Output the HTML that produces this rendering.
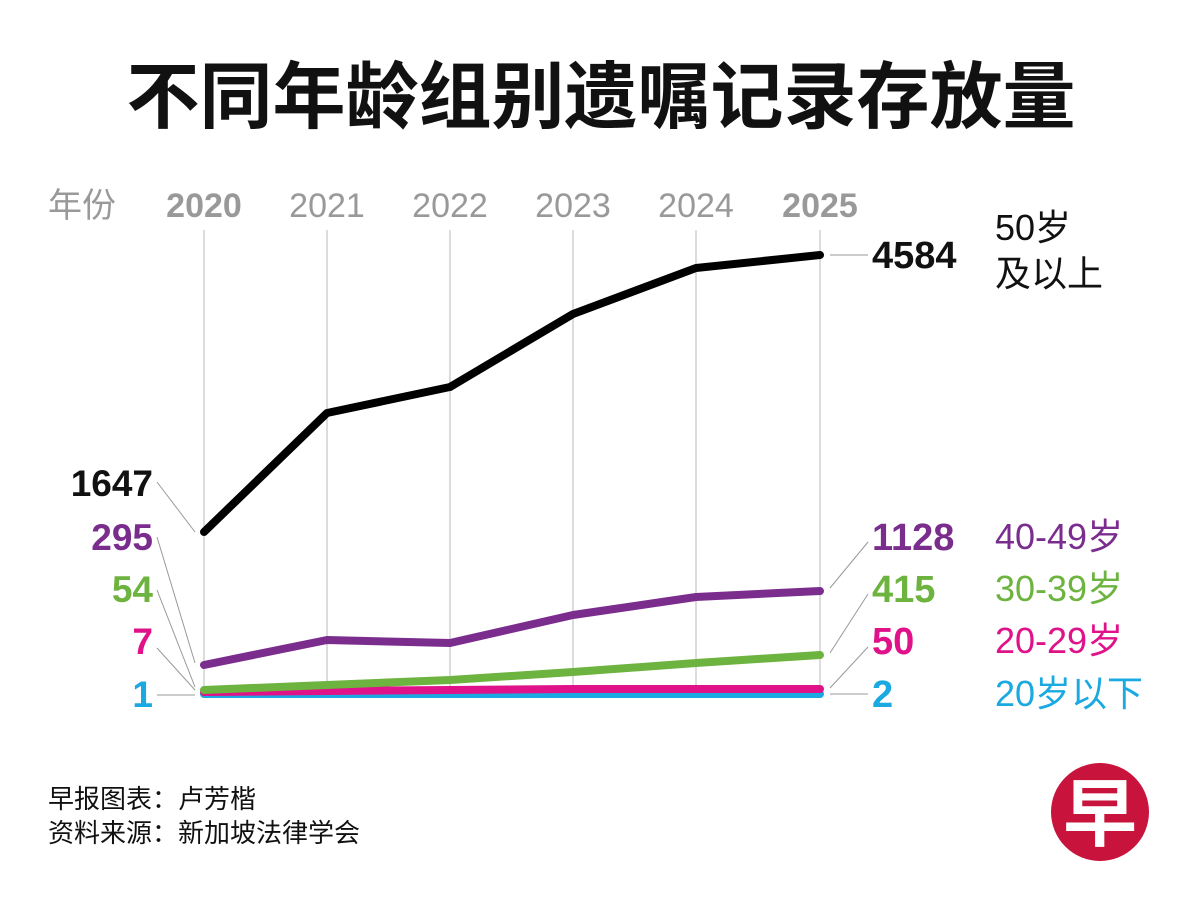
<!DOCTYPE html>
<html><head><meta charset="utf-8"><style>
body{margin:0;background:#fff;}
svg{display:block;}
text{font-family:"Liberation Sans","Noto Sans CJK SC",sans-serif;}
</style></head><body>
<svg width="1200" height="912" viewBox="0 0 1200 912">
<rect width="1200" height="912" fill="#fff"/>
<text x="601" y="122" text-anchor="middle" font-size="73" font-weight="bold" fill="#111">不同年龄组别遗嘱记录存放量</text>
<g font-size="34" fill="#999">
<text x="48" y="217">年份</text>
<text x="204" y="217" text-anchor="middle" font-weight="bold">2020</text>
<text x="327" y="217" text-anchor="middle">2021</text>
<text x="450" y="217" text-anchor="middle">2022</text>
<text x="573" y="217" text-anchor="middle">2023</text>
<text x="696" y="217" text-anchor="middle">2024</text>
<text x="820" y="217" text-anchor="middle" font-weight="bold">2025</text>
</g>
<g stroke="#d0d0d0" stroke-width="1.5">
<line x1="204" y1="230" x2="204" y2="695"/><line x1="327" y1="230" x2="327" y2="695"/>
<line x1="450" y1="230" x2="450" y2="695"/><line x1="573" y1="230" x2="573" y2="695"/>
<line x1="696" y1="230" x2="696" y2="695"/><line x1="820" y1="230" x2="820" y2="695"/>
</g>
<g stroke="#999" stroke-width="1" fill="none">
<path d="M157 482 L195 532"/><path d="M157 537 L195 663"/><path d="M157 590 L195 687"/>
<path d="M157 648 L195 690"/><path d="M157 695 L195 695"/>
<path d="M830 255 L868 255"/><path d="M830 588 L868 542"/><path d="M830 653 L868 594"/>
<path d="M830 688 L868 647"/><path d="M830 694 L868 694"/>
</g>
<g fill="none" stroke-width="8" stroke-linecap="round" stroke-linejoin="round">
<polyline stroke="#1aa9e0" points="204,694 327,694 450,694 573,694 696,694 820,694"/>
<polyline stroke="#e0128a" points="204,692 327,691 450,690 573,689 696,689 820,689"/>
<polyline stroke="#6db33f" points="204,690 327,685 450,680 573,672 696,663 820,655"/>
<polyline stroke="#7b2d8e" points="204,665 327,640 450,643 573,615 696,597 820,591"/>
<polyline stroke="#000" points="204,532 327,413 450,387 573,314 696,268 820,255"/>
</g>
<g font-size="37" font-weight="bold" text-anchor="end">
<text x="153" y="496" fill="#111">1647</text>
<text x="153" y="550" fill="#7b2d8e">295</text>
<text x="153" y="602" fill="#6db33f">54</text>
<text x="153" y="654" fill="#e0128a">7</text>
<text x="153" y="707" fill="#1aa9e0">1</text>
</g>
<g font-size="38" font-weight="bold">
<text x="872" y="268" fill="#111">4584</text>
<text x="872" y="550" fill="#7b2d8e">1128</text>
<text x="872" y="602" fill="#6db33f">415</text>
<text x="872" y="654" fill="#e0128a">50</text>
<text x="872" y="707" fill="#1aa9e0">2</text>
</g>
<g font-size="36">
<text x="995" y="240" fill="#111">50岁</text>
<text x="995" y="286" fill="#111">及以上</text>
<text x="995" y="549" fill="#7b2d8e">40-49岁</text>
<text x="995" y="601" fill="#6db33f">30-39岁</text>
<text x="995" y="653" fill="#e0128a">20-29岁</text>
<text x="995" y="706" fill="#1aa9e0">20岁以下</text>
</g>
<g font-size="26" fill="#111">
<text x="48" y="808">早报图表：卢芳楷</text>
<text x="48" y="842">资料来源：新加坡法律学会</text>
</g>
<circle cx="1100" cy="812" r="49" fill="#c8143c"/>
<text x="1100" y="840" text-anchor="middle" font-size="74" font-weight="bold" fill="#fff">早</text>
</svg>
</body></html>
